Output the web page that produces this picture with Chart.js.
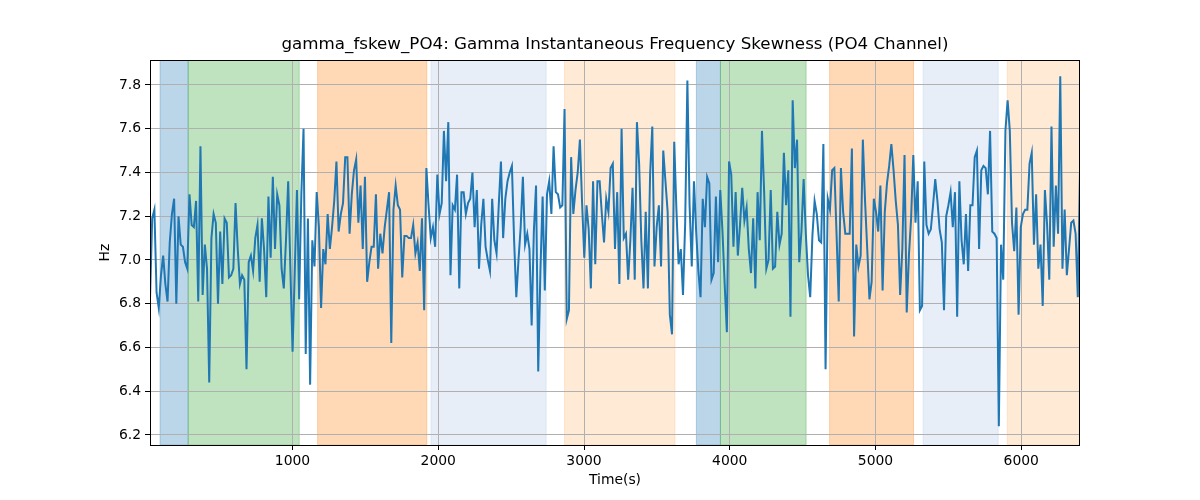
<!DOCTYPE html>
<html>
<head>
<meta charset="utf-8">
<script src="https://cdn.jsdelivr.net/npm/chart.js@4/dist/chart.umd.min.js"></script>
<style>
  html, body { margin: 0; padding: 0; background: #fff; }
</style>
</head>
<body>
<canvas id="chart" width="1200" height="500"></canvas>
<script>
// sampled signal: first sample time and step (seconds)
var t0 = 22;
var dt = 15.05;

// Hz values left to right
var skewValues = [
    6.82, 7.19, 7.23, 6.85, 6.78, 6.93, 7.02, 6.89, 6.81, 7.08,
    7.21, 7.28, 6.80, 7.20, 7.07, 7.06, 6.99, 6.96, 7.30, 7.16,
    7.15, 7.27, 6.81, 7.52, 6.84, 7.07, 6.96, 6.44, 7.10, 7.21,
    7.17, 6.80, 7.13, 6.89, 7.19, 7.17, 6.92, 6.93, 6.96, 7.26,
    7.05, 6.89, 6.93, 6.91, 6.50, 6.99, 7.02, 6.95, 7.10, 7.16,
    6.90, 7.19, 7.05, 6.83, 7.29, 7.01, 7.38, 7.05, 7.30, 7.25,
    6.96, 6.87, 7.09, 7.36, 6.96, 6.58, 6.95, 7.32, 6.82, 7.30,
    7.60,
    6.57, 7.19, 6.43, 7.09, 6.97, 7.31, 7.15, 6.78, 7.05, 6.98,
    7.21, 7.05, 7.15, 7.27, 7.45, 7.13, 7.21, 7.26, 7.47, 7.47,
    7.12, 7.30, 7.41, 7.46, 7.17, 7.34, 7.05, 7.38, 6.90, 6.99,
    7.06, 7.06, 7.30, 6.96, 7.12, 7.03, 7.15, 7.23, 7.31, 6.62,
    7.23, 7.34, 7.25, 7.23, 6.92, 7.11, 7.11, 7.10, 7.10, 7.16,
    7.03, 7.08, 6.95, 7.19, 6.77, 7.42, 7.25, 7.10, 7.15, 7.06,
    7.39, 7.21, 7.26, 7.59, 7.36, 7.63, 6.93, 7.25, 7.23, 7.39,
    6.87, 7.31, 7.31, 7.21, 7.26, 7.28, 7.40, 7.15, 7.32, 6.96,
    7.16, 7.28, 7.06, 7.00, 6.95, 7.28, 7.09, 7.03, 7.25, 7.45,
    7.10, 7.28, 7.36, 7.40, 7.43, 7.09, 6.83, 7.00, 7.15, 7.38,
    7.07, 7.12, 7.05, 6.70, 7.13, 7.34, 6.49, 6.95, 7.29, 6.86,
    7.30, 7.36, 7.21, 7.52, 7.31, 7.30, 7.24, 7.25, 7.69, 6.73,
    6.77, 7.47, 7.21, 7.32, 7.40, 7.55, 7.26, 7.01, 7.25, 7.14,
    6.87, 7.36, 6.98, 7.36, 7.36, 7.21, 7.08, 7.28, 7.22, 7.42,
    7.44,
    7.05, 7.31, 6.89, 7.60, 7.10, 7.12, 6.91, 7.09, 7.33, 6.91,
    7.63, 7.44, 7.09, 6.87, 7.22, 6.87, 7.39, 7.61, 6.97, 7.15,
    7.25, 6.97, 7.50, 7.36, 7.22, 6.75, 6.66, 7.54, 7.23, 6.98,
    7.05, 6.84, 7.17, 7.82, 7.25, 6.97, 7.36, 7.13, 6.95, 6.83,
    7.28, 7.15, 7.38, 7.35, 6.91, 6.94, 7.29, 6.99, 7.32, 7.13,
    6.89, 6.67, 7.45, 7.39, 7.06, 7.31, 7.02, 7.16, 7.33, 7.18,
    7.24, 7.05, 6.94, 7.19, 6.87, 7.31, 7.09, 7.59, 7.31, 6.96,
    7.00,
    7.32, 6.96, 6.97, 7.22, 7.07, 7.12, 7.49, 7.25, 7.41, 6.74,
    7.73, 7.42, 7.55, 6.99, 7.13, 7.37, 7.12, 6.93, 6.83, 7.11,
    7.27, 7.21, 7.09, 7.08, 7.53, 6.50, 7.28, 7.23, 7.41, 7.42,
    7.12, 6.81, 7.42, 7.22, 7.12, 7.12, 7.12, 7.51, 6.65, 7.07,
    6.97, 7.02, 7.55, 7.27, 7.05, 6.82, 6.90, 7.28, 7.22, 7.13,
    7.34, 6.86, 7.22, 7.35, 7.43, 7.53, 7.41, 7.27, 7.16, 6.84,
    7.05, 7.48, 6.76, 7.02, 7.19, 7.48, 7.17, 7.36, 6.77, 6.79,
    7.45,
    7.16, 7.12, 7.14, 7.25, 7.37, 7.27, 7.14, 7.08, 6.77, 7.20,
    7.25, 7.31, 7.15, 7.31, 6.74, 7.36, 7.09, 6.98, 7.21, 6.95,
    7.25, 7.25, 7.47, 7.50, 7.05, 7.41, 7.43, 7.42, 7.30, 7.59,
    7.13, 7.12, 7.10, 6.24, 7.07, 6.91, 7.59, 7.73, 7.59, 7.17,
    7.04, 7.24, 6.75, 7.15, 7.21, 7.23, 7.23, 7.44, 7.49, 7.07,
    7.30, 6.96, 7.07, 6.79, 7.32, 7.16, 6.91, 7.61, 7.06, 7.34,
    7.12, 7.84, 6.96, 7.23, 6.93, 7.05, 7.17, 7.18, 7.12, 6.83,
    7.41
];

// shaded segments (seconds) and their kind
var bandStart = [91, 284, 1172, 1950, 2866, 3771, 3936, 4685, 5327, 5904];
var bandEnd   = [284, 1046, 1921, 2740, 3624, 3936, 4524, 5261, 5842, 6420];
var bandKind  = ["blue", "green", "orange", "lightblue", "lightorange",
                 "blue", "green", "orange", "lightblue", "lightorange"];

var xTicks = [1000, 2000, 3000, 4000, 5000, 6000];
var yTicks = [6.2, 6.4, 6.6, 6.8, 7.0, 7.2, 7.4, 7.6, 7.8];

var bandColors = {
    blue: "rgba(31, 119, 180, 0.3)",
    green: "rgba(44, 160, 44, 0.3)",
    orange: "rgba(255, 127, 14, 0.3)",
    lightblue: "rgba(174, 199, 232, 0.3)",
    lightorange: "rgba(255, 187, 120, 0.3)"
};

var points = [];
for (var i = 0; i < skewValues.length; ++i) {
    points.push({ x: t0 + i * dt, y: skewValues[i] });
}
var tEnd = t0 + (skewValues.length - 1) * dt;

var fontFamily = "'DejaVu Sans', sans-serif";

var bandsPlugin = {
    id: "bands",
    beforeDraw: function(chart) {
        var ctx = chart.ctx;
        var area = chart.chartArea;
        var xs = chart.scales.x;
        ctx.save();
        ctx.beginPath();
        ctx.rect(area.left, area.top, area.right - area.left, area.bottom - area.top);
        ctx.clip();
        for (var i = 0; i < bandStart.length; ++i) {
            var x1 = xs.getPixelForValue(bandStart[i]);
            var x2 = xs.getPixelForValue(bandEnd[i]);
            ctx.fillStyle = bandColors[bandKind[i]];
            ctx.fillRect(x1, area.top, x2 - x1, area.bottom - area.top);
            ctx.strokeStyle = bandColors[bandKind[i]];
            ctx.lineWidth = 1;
            ctx.strokeRect(x1, area.top, x2 - x1, area.bottom - area.top);
        }
        ctx.restore();
    },
    afterDatasetsDraw: function(chart) {
        var ctx = chart.ctx;
        var area = chart.chartArea;
        ctx.save();
        ctx.strokeStyle = "#000";
        ctx.lineWidth = 1;
        ctx.strokeRect(Math.round(area.left) + 0.5, Math.round(area.top) + 0.5,
                       Math.round(area.right - area.left) - 1, Math.round(area.bottom - area.top));
        ctx.restore();
    }
};

Chart.defaults.color = "#000";
Chart.defaults.font.family = fontFamily;

var ctx = document.getElementById("chart").getContext("2d");
var myChart = new Chart(ctx, {
    type: "line",
    data: {
        datasets: [{
            data: points,
            borderColor: "#1f77b4",
            borderWidth: 2,
            pointRadius: 0,
            tension: 0,
            fill: false
        }]
    },
    plugins: [bandsPlugin],
    options: {
        responsive: false,
        animation: false,
        devicePixelRatio: 1,
        layout: { padding: { left: 0, right: 120, top: 0, bottom: 0 } },
        plugins: {
            legend: { display: false },
            tooltip: { enabled: false },
            title: {
                display: true,
                fullSize: false,
                text: "gamma_fskew_PO4: Gamma Instantaneous Frequency Skewness (PO4 Channel)",
                color: "#000",
                font: { family: fontFamily, size: 16.7, weight: "normal", lineHeight: 1.2 },
                padding: { top: 35, bottom: 5 }
            }
        },
        scales: {
            x: {
                type: "linear",
                min: t0,
                max: tEnd,
                afterBuildTicks: function(scale) {
                    scale.ticks = xTicks.map(function(v) { return { value: v }; });
                },
                afterFit: function(scale) { scale.height = 55; },
                ticks: {
                    font: { size: 13.9 },
                    padding: 3,
                    maxRotation: 0,
                    autoSkip: false,
                    callback: function(v) { return String(v); }
                },
                grid: { color: "#b0b0b0", tickColor: "#000", tickLength: 5, lineWidth: 1 },
                border: { display: false },
                title: {
                    display: true,
                    text: "Time(s)",
                    font: { size: 13.9, lineHeight: 1.2 },
                    padding: { top: 0, bottom: 11 }
                }
            },
            y: {
                type: "linear",
                min: 6.154,
                max: 7.914,
                afterBuildTicks: function(scale) {
                    scale.ticks = yTicks.map(function(v) { return { value: v }; });
                },
                afterFit: function(scale) { scale.width = 150; },
                ticks: {
                    font: { size: 13.9 },
                    padding: 4,
                    autoSkip: false,
                    callback: function(v) { return v.toFixed(1); }
                },
                grid: { color: "#b0b0b0", tickColor: "#000", tickLength: 5, lineWidth: 1 },
                border: { display: false },
                title: {
                    display: true,
                    text: "Hz",
                    font: { size: 13.9, lineHeight: 1.2 },
                    padding: { top: 97, bottom: 0 }
                }
            }
        }
    }
});
</script>
</body>
</html>
